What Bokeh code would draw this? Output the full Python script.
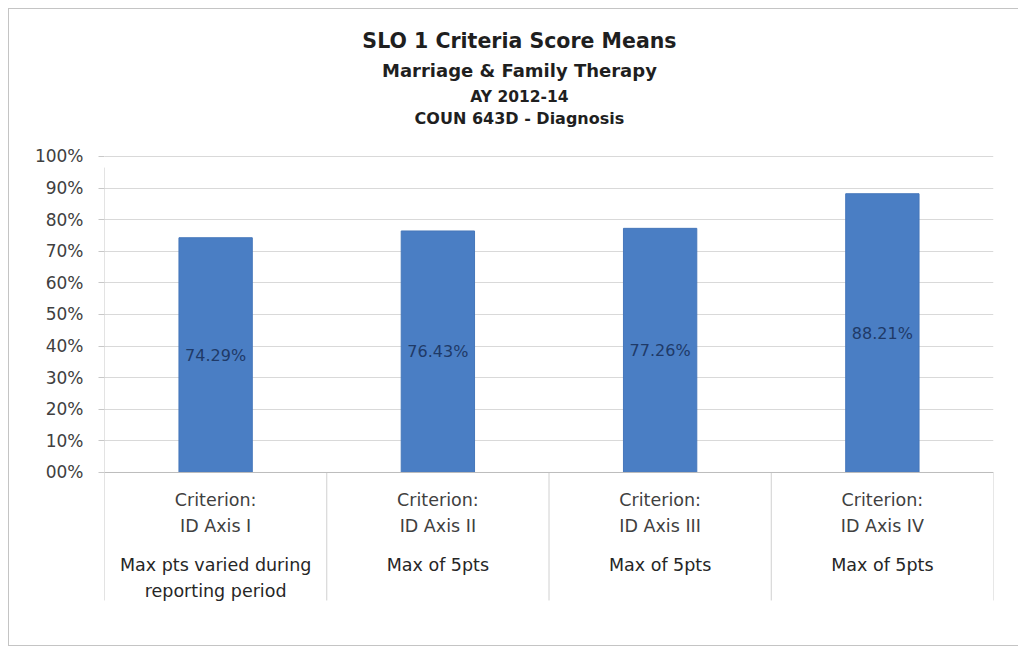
from bokeh.plotting import figure
from bokeh.models import Range1d, FixedTicker, Span, ColumnDataSource
from bokeh.core.properties import value
from bokeh.embed import file_html
from bokeh.resources import INLINE

# ---- data ----
criteria = ["Criterion:\nID Axis I", "Criterion:\nID Axis II", "Criterion:\nID Axis III", "Criterion:\nID Axis IV"]
max_points = ["Max pts varied during\nreporting period", "Max of 5pts", "Max of 5pts", "Max of 5pts"]
means = [74.29, 76.43, 77.26, 88.21]
value_labels = ["74.29%", "76.43%", "77.26%", "88.21%"]
y_ticks = [0, 10, 20, 30, 40, 50, 60, 70, 80, 90, 100]
y_tick_labels = ["00%", "10%", "20%", "30%", "40%", "50%", "60%", "70%", "80%", "90%", "100%"]
title_lines = ["SLO 1 Criteria Score Means", "Marriage & Family Therapy", "AY 2012-14", "COUN 643D - Diagnosis"]

FONT = "DejaVu Sans"
idx = list(range(len(means)))

# plot frame extends above 100% (title lines) and below 0% (category labels)
Y_TOP = 143.35
Y_BOTTOM = -43.67
SEP_BOTTOM = -40.5
p = figure(width=1010, height=638, output_backend="svg", toolbar_location=None,
           x_range=Range1d(-0.5, len(means) - 0.5), y_range=Range1d(Y_BOTTOM, Y_TOP),
           min_border_left=95, min_border_right=26, min_border_top=10, min_border_bottom=37)
p.styles = {"margin-left": "8px", "margin-top": "8px",
            "border-left": "1px solid #c4c4c4", "border-top": "1px solid #c4c4c4",
            "border-bottom": "1px solid #c4c4c4"}
p.title.visible = False
p.outline_line_color = None
p.background_fill_color = "white"
p.border_fill_color = "white"

p.xaxis.visible = False
p.xgrid.visible = False
p.yaxis.ticker = FixedTicker(ticks=y_ticks, minor_ticks=[])
p.yaxis.major_label_overrides = {t: l for t, l in zip(y_ticks, y_tick_labels)}
p.yaxis.axis_line_color = None
p.yaxis.major_tick_line_color = "#c8c8c8"
p.yaxis.major_tick_out = 6
p.yaxis.major_tick_in = 0
p.yaxis.minor_tick_line_color = None
p.yaxis.major_label_standoff = 15
p.yaxis.major_label_text_font = FONT
p.yaxis.major_label_text_font_size = "17px"
p.yaxis.major_label_text_color = "#404040"
p.ygrid.grid_line_color = "#d9d9d9"
p.ygrid.ticker = FixedTicker(ticks=y_ticks, minor_ticks=[])

p.add_layout(Span(location=0, dimension="width", line_color="#bdbdbd", line_width=1))

# vertical axis line (starts just below the 100% gridline, as in the original)
p.segment(x0=[-0.5], x1=[-0.5], y0=[SEP_BOTTOM], y1=[96.5], line_color="#c8c8c8", line_width=1)
# category separators below the baseline
bounds = [i - 0.5 for i in range(1, len(means) + 1)]
p.segment(x0=bounds, x1=bounds, y0=[0] * len(bounds), y1=[SEP_BOTTOM] * len(bounds),
          line_color="#d0d0d0", line_width=1)

src = ColumnDataSource(dict(x=idx, top=means, mid=[m / 2 for m in means], lab=value_labels,
                            crit=criteria, maxp=max_points, zero=[0] * len(means)))
p.vbar(x="x", top="top", bottom=0, width=0.33, source=src,
       fill_color="#4A7EC4", line_color="#4677BA", line_width=1)
p.text(x="x", y="mid", text="lab", source=src, text_align="center", text_baseline="middle",
       text_font=value(FONT), text_font_size="16px", text_color="#1F3A68")
p.text(x="x", y="zero", text="crit", source=src, y_offset=18, text_align="center", text_baseline="top",
       text_font=value(FONT), text_font_size="17.5px", text_color="#404040", text_line_height=1.28)
p.text(x="x", y="zero", text="maxp", source=src, y_offset=83, text_align="center", text_baseline="top",
       text_font=value(FONT), text_font_size="17.5px", text_color="#262626", text_line_height=1.28)

# title lines
title_src = ColumnDataSource(dict(
    x=[1.367] * len(title_lines),
    y=[136.6, 127.1, 118.9, 111.9],
    t=title_lines,
    size=["20.5px", "18px", "15.5px", "16px"],
))
p.text(x="x", y="y", text="t", source=title_src, text_align="center", text_baseline="middle",
       text_font=value(FONT), text_font_style="bold", text_font_size="size", text_color="#1f1f1f")

open("out.html", "w").write(file_html(p, INLINE))
